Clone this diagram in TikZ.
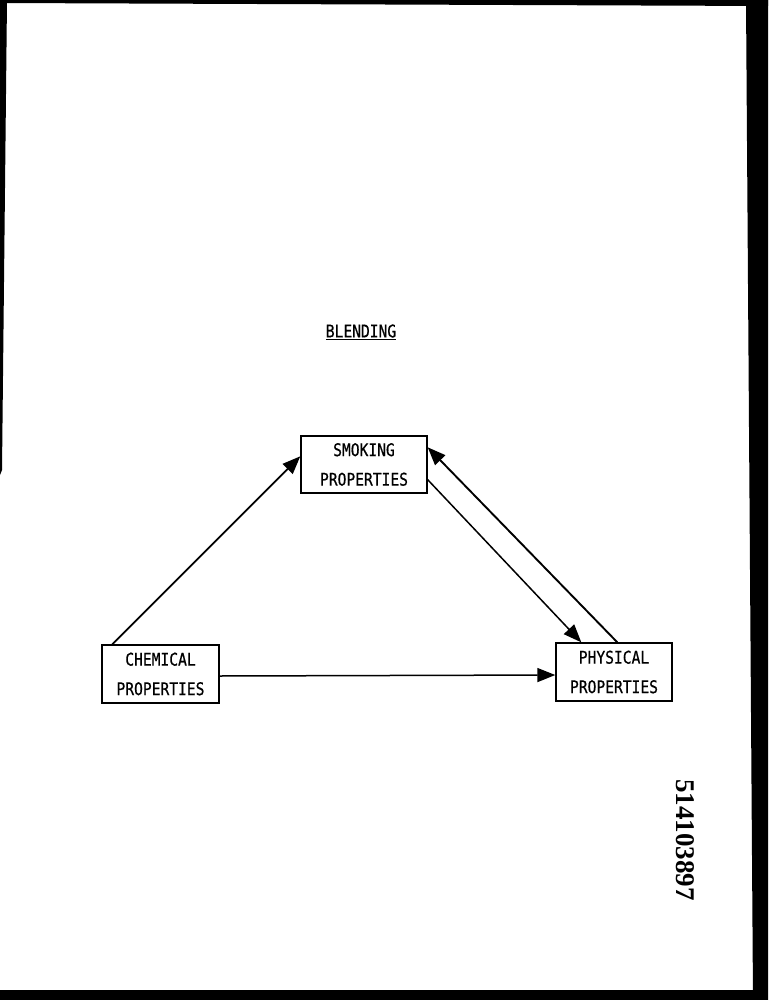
\documentclass[tikz,border=0pt]{standalone}
\usepackage{fontspec}
\newfontfamily\monofont[FakeStretch=0.84,FakeBold=0.6]{DejaVu Sans Mono}
\newfontfamily\stampfont{Liberation Serif}
\usetikzlibrary{arrows.meta}
\begin{document}
\begin{tikzpicture}[x=1pt,y=-1pt,
  propbox/.style={draw=black,line width=1.4pt,inner sep=0pt,align=center,
    font=\monofont\fontsize{17.4}{29.5}\selectfont},
  flow/.style={line width=1.9pt,-{Triangle[length=18pt,width=14pt]}},
  flowthin/.style={line width=1.5pt,-{Triangle[length=18pt,width=14pt]}}]
\useasboundingbox (0,0) rectangle (768,1000);
\fill[white] (0,0) rectangle (768,1000);
% scan borders
\fill[black] (746,0) -- (768,0) -- (768,1000) -- (753,1000) -- cycle;
\fill[black] (0,990) rectangle (768,1000);
\fill[black] (0,0) -- (768,0) -- (768,6) -- (0,3) -- cycle;
\fill[black] (0,0) -- (7,0) -- (2,470) -- (0,475) -- cycle;

\node[font=\monofont\fontsize{17.4}{20}\selectfont] (title) at (361,332) {\underline{BLENDING}};

\node[propbox,minimum width=126pt,minimum height=57pt] (smoke) at (364,464.5) {SMOKING\\PROPERTIES};
\node[propbox,minimum width=117pt,minimum height=58pt] (chem) at (160.5,674) {CHEMICAL\\PROPERTIES};
\node[propbox,minimum width=116pt,minimum height=58pt] (phys) at (614,672) {PHYSICAL\\PROPERTIES};

\draw[flow] ([xshift=11pt]chem.north west) -- ([yshift=-21pt]smoke.north west);
\draw[flowthin] ([yshift=-2pt]chem.east) -- ([yshift=-3pt]phys.west);
\draw[flowthin] ([yshift=14pt]smoke.south east) -- ([xshift=26pt]phys.north west);
\draw[flow] ([xshift=62pt]phys.north west) -- ([yshift=-12pt]smoke.north east);

\node[rotate=-90,font=\stampfont\bfseries\fontsize{27}{30}\selectfont] (stamp) at (685,840) {514103897};
\end{tikzpicture}
\end{document}
